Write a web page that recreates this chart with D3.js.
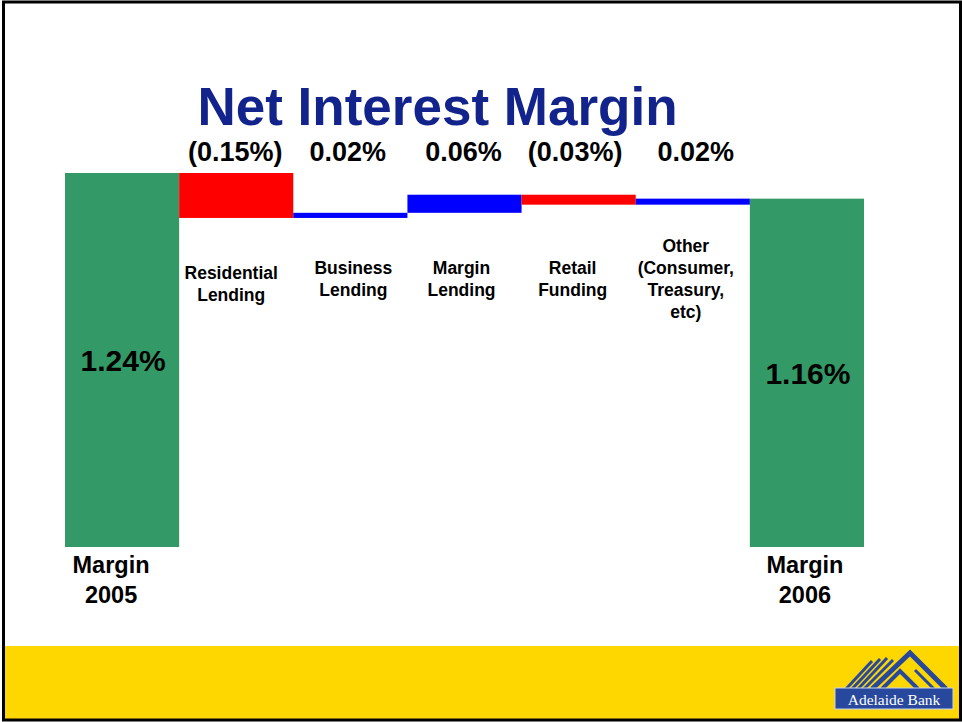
<!DOCTYPE html>
<html>
<head>
<meta charset="utf-8">
<script src="https://cdn.jsdelivr.net/npm/d3@7/dist/d3.min.js"></script>
<style>
  html, body { margin: 0; padding: 0; background: #fff; }
  svg { display: block; }
  text { font-family: "Liberation Sans", Arial, Helvetica, sans-serif; font-weight: bold; }
</style>
</head>
<body>
<svg id="chart" width="962" height="722"></svg>
<script>
// ---- data ----
const categories = ["Margin 2005", "Residential Lending", "Business Lending", "Margin Lending", "Retail Funding", "Other (Consumer, Treasury, etc)", "Margin 2006"];
const kinds = ["total", "delta", "delta", "delta", "delta", "delta", "total"];
const values = [1.24, -0.149, 0.017, 0.060, -0.033, 0.020, 1.155];
const valueLabels = ["1.24%", "(0.15%)", "0.02%", "0.06%", "(0.03%)", "0.02%", "1.16%"];
const categoryLines = [
  ["Margin", "2005"],
  ["Residential", "Lending"],
  ["Business", "Lending"],
  ["Margin", "Lending"],
  ["Retail", "Funding"],
  ["Other", "(Consumer,", "Treasury,", "etc)"],
  ["Margin", "2006"]
];
const title = "Net Interest Margin";

// ---- build waterfall ----
let running = 0;
const rows = categories.map((c, i) => {
  let y0, y1;
  if (kinds[i] === "total") { y0 = 0; y1 = values[i]; running = values[i]; }
  else { y0 = running; y1 = running + values[i]; running = y1; }
  return { cat: c, kind: kinds[i], v: values[i], lo: Math.min(y0, y1), hi: Math.max(y0, y1), label: valueLabels[i], lines: categoryLines[i], i };
});

const svg = d3.select("#chart");
const W = 962, H = 722;

// background & footer band
svg.append("rect").attr("x", 0).attr("y", 0).attr("width", W).attr("height", H).attr("fill", "#fff");
svg.append("rect").attr("x", 5).attr("y", 646).attr("width", 955).attr("height", 73).attr("fill", "#FFD700");

const x = d3.scaleBand().domain(categories).range([65, 864]).padding(0);
const y = d3.scaleLinear().domain([0, 1.24]).range([547, 173]);

const colorOf = d => d.kind === "total" ? "#339966" : (d.v < 0 ? "#FF0000" : "#0000FF");

svg.append("g").selectAll("rect").data(rows).join("rect")
  .attr("x", d => x(d.cat))
  .attr("width", x.bandwidth())
  .attr("y", d => y(d.hi))
  .attr("height", d => y(d.lo) - y(d.hi))
  .attr("fill", colorOf);

// title
svg.append("text").attr("x", 437.5).attr("y", 125).attr("text-anchor", "middle")
  .attr("font-size", 53).attr("fill", "#13238C").text(title);

// value labels for deltas (above) and totals (inside)
const cx = d => x(d.cat) + x.bandwidth() / 2;
const valueDx = [0, -1, -2.5, -1, -3.5, 3, 0];
svg.append("g").selectAll("text").data(rows.filter(d => d.kind === "delta")).join("text")
  .attr("x", d => cx(d) + valueDx[d.i]).attr("y", 161).attr("text-anchor", "middle")
  .attr("font-size", 27).attr("fill", "#000").text(d => d.label);

svg.append("g").selectAll("text").data(rows.filter(d => d.kind === "total")).join("text")
  .attr("x", d => cx(d) + 1).attr("y", d => (y(d.hi) + y(d.lo)) / 2 + 11).attr("text-anchor", "middle")
  .attr("font-size", 30).attr("fill", "#000").text(d => d.label);

// category labels for deltas
const catDx = [0, -5, 3, -3, -6, -7, 0];
const catG = svg.append("g");
rows.filter(d => d.kind === "delta").forEach(d => {
  const n = d.lines.length;
  const lh = 22;
  const centerY = d.i === 1 ? 290 : 285;
  const firstBase = centerY - (n - 1) * lh / 2;
  const t = catG.append("text").attr("text-anchor", "middle").attr("font-size", 17.5).attr("fill", "#000");
  d.lines.forEach((ln, k) => {
    t.append("tspan").attr("x", cx(d) + catDx[d.i]).attr("y", firstBase + k * lh).text(ln);
  });
});

// category labels for totals (below)
rows.filter(d => d.kind === "total").forEach(d => {
  const dx = d.i === 0 ? -11 : -2;
  const t = catG.append("text").attr("text-anchor", "middle").attr("font-size", 23.5).attr("fill", "#000");
  d.lines.forEach((ln, k) => {
    t.append("tspan").attr("x", cx(d) + dx).attr("y", 573 + k * 29.5).text(ln);
  });
});

// logo
const logo = svg.append("g");
const blue = "#27489C";
[[846, 689, 872, 661], [852, 689, 880, 659], [858, 689, 887, 658], [864, 689, 893, 660]].forEach(p => {
  logo.append("line").attr("x1", p[0]).attr("y1", p[1]).attr("x2", p[2]).attr("y2", p[3])
    .attr("stroke", blue).attr("stroke-width", 3);
});
logo.append("path").attr("d", "M872,689 L910,653 L946,689").attr("fill", "none").attr("stroke", blue).attr("stroke-width", 5);
logo.append("path").attr("d", "M882,689 L900,671 L918,689").attr("fill", "none").attr("stroke", blue).attr("stroke-width", 4);
logo.append("path").attr("d", "M915,670 L934,689").attr("fill", "none").attr("stroke", blue).attr("stroke-width", 3);
logo.append("rect").attr("x", 835).attr("y", 688).attr("width", 118).attr("height", 21)
  .attr("fill", blue).attr("stroke", "#c8d4f0").attr("stroke-width", 1);
logo.append("text").attr("x", 894).attr("y", 704.5).attr("text-anchor", "middle")
  .style("font-family", "'Liberation Serif', 'Times New Roman', serif").style("font-weight", "normal")
  .attr("font-size", 15.5).attr("fill", "#fff").text("Adelaide Bank");

// frame
svg.append("rect").attr("x", 3.5).attr("y", 2).attr("width", 957).attr("height", 718)
  .attr("fill", "none").attr("stroke", "#000").attr("stroke-width", 3);
</script>
</body>
</html>
